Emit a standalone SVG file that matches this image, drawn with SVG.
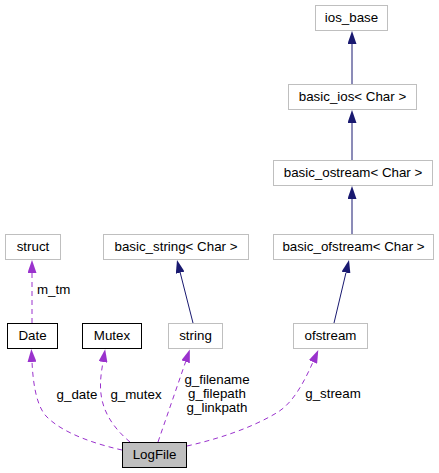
<svg xmlns="http://www.w3.org/2000/svg" width="439" height="473" viewBox="0 0 439 473">
<style>
text{font-family:"Liberation Sans",Arial,Helvetica,sans-serif;font-size:13.33px;fill:#000}
.n text{text-anchor:middle}
.g{fill:#fff;stroke:#bfbfbf;stroke-width:1}
.b{fill:#fff;stroke:#000;stroke-width:1}
.cur{fill:#bfbfbf;stroke:#000;stroke-width:1}
.inh{fill:none;stroke:#191970;stroke-width:1}
.use{fill:none;stroke:#9a32cd;stroke-width:1;stroke-dasharray:5,4}
.lbl{text-anchor:start}
.mid{text-anchor:middle}
</style>
<defs>
<marker id="ab" viewBox="0 0 13 9" refX="0" refY="4.5" markerWidth="13" markerHeight="9" markerUnits="userSpaceOnUse" orient="auto">
<path d="M0,0 L13,4.5 L0,9 z" fill="#191970" stroke="none"/>
</marker>
<marker id="ap" viewBox="0 0 13 9" refX="0" refY="4.5" markerWidth="13" markerHeight="9" markerUnits="userSpaceOnUse" orient="auto">
<path d="M0,0 L13,4.5 L0,9 z" fill="#9a32cd" stroke="none"/>
</marker>
</defs>
<rect width="439" height="473" fill="#fff"/>
<g id="edges">
<path class="inh" d="M352,84 V44" marker-end="url(#ab)"/>
<path class="inh" d="M352,160 V123" marker-end="url(#ab)"/>
<path class="inh" d="M352,234 V199" marker-end="url(#ab)"/>
<path class="inh" d="M334,323 L346,272.6" marker-end="url(#ab)"/>
<path class="inh" d="M193,323 L180.2,272.6" marker-end="url(#ab)"/>
<path class="use" d="M32,323 V273" marker-end="url(#ap)"/>
<path class="use" d="M122,450 C95,444 62,433 46,416 C36,405 33,382 32,362" marker-end="url(#ap)"/>
<path class="use" d="M130,442 C118,432 106,418 102,400 C99,386 101,374 103,362" marker-end="url(#ap)"/>
<path class="use" d="M158,442 L185.6,361.8" marker-end="url(#ap)"/>
<path class="use" d="M187,446 C218,439 252,428 278,412 C294,402 305,380 313,362" marker-end="url(#ap)"/>
<text class="lbl" x="37" y="294">m_tm</text>
<text class="mid" x="77" y="399">g_date</text>
<text class="mid" x="136" y="399">g_mutex</text>
<text class="mid" x="217" y="384">g_filename</text>
<text class="mid" x="217" y="398">g_filepath</text>
<text class="mid" x="217" y="412">g_linkpath</text>
<text class="mid" x="333" y="398">g_stream</text>
</g>
<g id="ios_base" class="n"><rect class="g" x="315.5" y="5.5" width="72" height="25"/><text x="351.5" y="22">ios_base</text></g>
<g id="basic_ios" class="n"><rect class="g" x="288.5" y="84.5" width="128" height="25"/><text x="352.5" y="101">basic_ios&lt; Char &gt;</text></g>
<g id="basic_ostream" class="n"><rect class="g" x="273.5" y="160.5" width="159" height="25"/><text x="353" y="177">basic_ostream&lt; Char &gt;</text></g>
<g id="basic_ofstream" class="n"><rect class="g" x="273.5" y="234.5" width="160" height="25"/><text x="353.5" y="251">basic_ofstream&lt; Char &gt;</text></g>
<g id="struct" class="n"><rect class="g" x="5.5" y="234.5" width="55" height="25"/><text x="33" y="251">struct</text></g>
<g id="basic_string" class="n"><rect class="g" x="103.5" y="234.5" width="145" height="25"/><text x="176" y="251">basic_string&lt; Char &gt;</text></g>
<g id="Date" class="n"><rect class="b" x="7.5" y="323.5" width="50" height="25"/><text x="32.5" y="340">Date</text></g>
<g id="Mutex" class="n"><rect class="b" x="82.5" y="323.5" width="59" height="25"/><text x="112" y="340">Mutex</text></g>
<g id="string" class="n"><rect class="g" x="168.5" y="323.5" width="54" height="25"/><text x="195.5" y="340">string</text></g>
<g id="ofstream" class="n"><rect class="g" x="293.5" y="323.5" width="74" height="25"/><text x="330.5" y="340">ofstream</text></g>
<g id="LogFile" class="n"><rect class="cur" x="122.5" y="442.5" width="64" height="25"/><text x="154.5" y="459">LogFile</text></g>
</svg>
